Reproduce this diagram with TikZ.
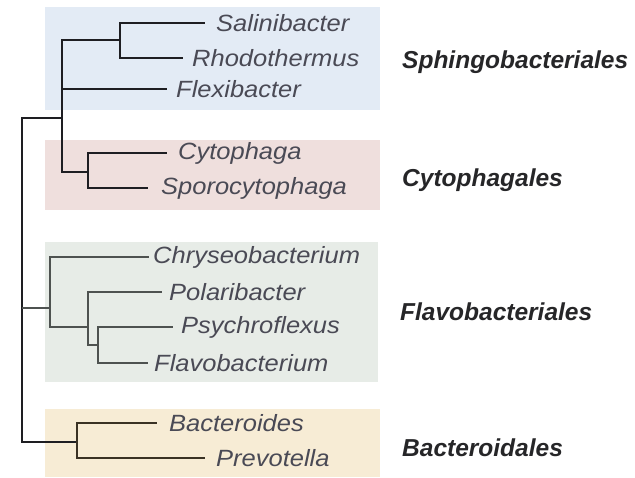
\documentclass[tikz,border=0pt]{standalone}
\usepackage{fontspec}
\setmainfont{Liberation Sans}
\newcommand\spxname[1]{\scalebox{1.085}[1]{#1}}
\begin{document}
\begin{tikzpicture}[x=1pt,y=-1pt,
  sp/.style={anchor=west,inner xsep=10pt,inner ysep=0pt,text=spc,font=\fontsize{23.5}{26}\selectfont\itshape},
  ord/.style={anchor=west,inner sep=0pt,text=ordc,font=\fontsize{24.5}{27}\selectfont\bfseries\itshape},
  br/.style={line width=2.3pt,draw=brA},
  brf/.style={line width=1.6pt,draw=brF},
  brb/.style={line width=1.6pt,draw=brB}]
\definecolor{spc}{HTML}{4A4A55}
\definecolor{ordc}{HTML}{262628}
\definecolor{brA}{HTML}{1E1E22}
\definecolor{brF}{HTML}{4E5250}
\definecolor{brB}{HTML}{3A3224}
\definecolor{bxS}{HTML}{E3EBF5}
\definecolor{bxC}{HTML}{EFDFDD}
\definecolor{bxF}{HTML}{E7ECE7}
\definecolor{bxB}{HTML}{F7ECD5}
\useasboundingbox (0,0) rectangle (635,477);
\fill[white] (0,0) rectangle (635,477);
% boxes
\fill[bxS] (45,7) rectangle (380,110);
\fill[bxC] (45,140) rectangle (380,210);
\fill[bxF] (45,242) rectangle (378,382);
\fill[bxB] (45,409) rectangle (380,477);
% species
\node[sp,inner xsep=11pt] (sal) at (205,23) {\spxname{Salinibacter}};
\node[sp,inner xsep=9pt] (rho) at (183,58) {\spxname{Rhodothermus}};
\node[sp,inner xsep=9pt] (fle) at (167,89) {\spxname{Flexibacter}};
\node[sp,inner xsep=11pt] (cyt) at (167,153) {\spxname{Cytophaga}};
\node[sp,inner xsep=13pt] (spo) at (148,188) {\spxname{Sporocytophaga}};
\node[sp,inner xsep=4pt] (chr) at (149,257) {\spxname{Chryseobacterium}};
\node[sp,inner xsep=7pt] (pol) at (162,292) {\spxname{Polaribacter}};
\node[sp,inner xsep=8pt] (psy) at (173,327) {\spxname{Psychroflexus}};
\node[sp,inner xsep=6pt] (fla) at (148,363) {\spxname{Flavobacterium}};
\node[sp,inner xsep=12pt] (bac) at (157,423) {\spxname{Bacteroides}};
\node[sp,inner xsep=11pt] (pre) at (205,458) {\spxname{Prevotella}};
% orders
\node[ord] (oS) at (402,62) {Sphingobacteriales};
\node[ord] (oC) at (402,180) {Cytophagales};
\node[ord] (oF) at (400,312) {Flavobacteriales};
\node[ord] (oB) at (402,448) {Bacteroidales};
% internal nodes
\coordinate (nA) at (120,40);
\coordinate (nB) at (62,118);
\coordinate (nC) at (88,172);
\coordinate (nR) at (22,308);
\coordinate (nF1) at (50,308);
\coordinate (nF2) at (88,327);
\coordinate (nF3) at (98,345);
\coordinate (nG) at (77,442);
% tree
\draw[br] (nA) |- (sal.west);
\draw[br] (nA) |- (rho.west);
\draw[br] (nB) |- (nA);
\draw[br] (nB) |- (fle.west);
\draw[br] (nB) |- (nC);
\draw[br] (nC) |- (cyt.west);
\draw[br] (nC) |- (spo.west);
\draw[line width=1.6pt,draw=brA] (nR) |- (nB);
\draw[line width=1.6pt,draw=brA] (nR) |- (nG);
\draw[brf] (nR) -- (nF1);
\draw[brf] (nF1) |- (chr.west);
\draw[brf] (nF1) |- (nF2);
\draw[brf] (nF2) |- (pol.west);
\draw[brf] (nF2) |- (nF3);
\draw[brf] (nF3) |- (psy.west);
\draw[brf] (nF3) |- (fla.west);
\draw[brb] (nG) |- (bac.west);
\draw[brb] (nG) |- (pre.west);
\end{tikzpicture}
\end{document}
